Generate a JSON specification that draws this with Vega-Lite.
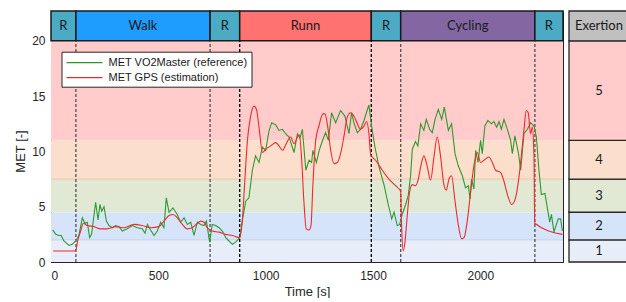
{
  "$schema": "https://vega.github.io/schema/vega-lite/v6.json",
  "padding": {"left": 14, "top": 10, "right": 0, "bottom": 0},
  "background": "white",
  "spacing": 3,
  "config": {
    "view": {"stroke": null},
    "font": "Liberation Sans",
    "axis": {
      "labelFont": "Liberation Sans", "titleFont": "Liberation Sans",
      "labelFontSize": 12, "titleFontSize": 13, "titleFontWeight": "normal",
      "labelColor": "#262626", "titleColor": "#262626",
      "domainColor": "#262626", "tickColor": "#262626", "grid": false
    }
  },
  "datasets": {
    "levels": [
      {"lo": 0, "hi": 2, "lvl": "1"},
      {"lo": 2, "hi": 4.5, "lvl": "2"},
      {"lo": 4.5, "hi": 7.5, "lvl": "3"},
      {"lo": 7.5, "hi": 11, "lvl": "4"},
      {"lo": 11, "hi": 20, "lvl": "5"},
      {"lo": 20, "hi": 22.7, "lvl": "Exertion"}
    ],
    "edges": [{"v": 2}, {"v": 7.5}],
    "bounds": [
      {"t": 116, "k": "g"}, {"t": 741, "k": "g"}, {"t": 879, "k": "b"},
      {"t": 1492, "k": "b"}, {"t": 1629, "k": "g"}, {"t": 2254, "k": "g"}
    ],
    "acts": [
      {"a": 0, "b": 116, "name": "R"},
      {"a": 116, "b": 741, "name": "Walk"},
      {"a": 741, "b": 879, "name": "R"},
      {"a": 879, "b": 1492, "name": "Runn"},
      {"a": 1492, "b": 1629, "name": "R"},
      {"a": 1629, "b": 2254, "name": "Cycling"},
      {"a": 2254, "b": 2385, "name": "R"}
    ],
    "met": [
      {"t":8,"m":2.9,"s":"VO2"},{"t":22,"m":2.5,"s":"VO2"},{"t":37,"m":2.4,"s":"VO2"},{"t":48,"m":2.4,"s":"VO2"},{"t":60,"m":1.9,"s":"VO2"},{"t":84,"m":1.5,"s":"VO2"},{"t":99,"m":1.6,"s":"VO2"},{"t":115,"m":1.9,"s":"VO2"},{"t":130,"m":2.4,"s":"VO2"},{"t":146,"m":4.0,"s":"VO2"},{"t":158,"m":3.5,"s":"VO2"},{"t":169,"m":3.6,"s":"VO2"},{"t":180,"m":2.2,"s":"VO2"},{"t":189,"m":2.5,"s":"VO2"},{"t":208,"m":5.4,"s":"VO2"},{"t":219,"m":3.8,"s":"VO2"},{"t":228,"m":5.2,"s":"VO2"},{"t":236,"m":4.6,"s":"VO2"},{"t":247,"m":5.0,"s":"VO2"},{"t":258,"m":3.7,"s":"VO2"},{"t":270,"m":3.3,"s":"VO2"},{"t":286,"m":3.1,"s":"VO2"},{"t":301,"m":3.3,"s":"VO2"},{"t":317,"m":3.2,"s":"VO2"},{"t":332,"m":2.8,"s":"VO2"},{"t":355,"m":3.0,"s":"VO2"},{"t":379,"m":3.3,"s":"VO2"},{"t":402,"m":3.1,"s":"VO2"},{"t":425,"m":3.0,"s":"VO2"},{"t":438,"m":2.6,"s":"VO2"},{"t":449,"m":3.4,"s":"VO2"},{"t":464,"m":2.9,"s":"VO2"},{"t":480,"m":2.4,"s":"VO2"},{"t":495,"m":2.8,"s":"VO2"},{"t":511,"m":3.6,"s":"VO2"},{"t":526,"m":3.1,"s":"VO2"},{"t":537,"m":5.8,"s":"VO2"},{"t":550,"m":4.5,"s":"VO2"},{"t":568,"m":4.9,"s":"VO2"},{"t":588,"m":4.3,"s":"VO2"},{"t":604,"m":3.6,"s":"VO2"},{"t":620,"m":4.0,"s":"VO2"},{"t":635,"m":3.4,"s":"VO2"},{"t":651,"m":3.6,"s":"VO2"},{"t":666,"m":2.4,"s":"VO2"},{"t":682,"m":3.6,"s":"VO2"},{"t":697,"m":3.4,"s":"VO2"},{"t":713,"m":3.3,"s":"VO2"},{"t":724,"m":3.7,"s":"VO2"},{"t":739,"m":1.8,"s":"VO2"},{"t":751,"m":3.4,"s":"VO2"},{"t":767,"m":3.3,"s":"VO2"},{"t":783,"m":3.1,"s":"VO2"},{"t":798,"m":2.8,"s":"VO2"},{"t":814,"m":2.2,"s":"VO2"},{"t":829,"m":1.9,"s":"VO2"},{"t":845,"m":1.6,"s":"VO2"},{"t":860,"m":1.8,"s":"VO2"},{"t":879,"m":2.2,"s":"VO2"},{"t":891,"m":3.7,"s":"VO2"},{"t":907,"m":5.5,"s":"VO2"},{"t":922,"m":5.8,"s":"VO2"},{"t":938,"m":8.3,"s":"VO2"},{"t":953,"m":9.6,"s":"VO2"},{"t":969,"m":9.0,"s":"VO2"},{"t":985,"m":10.4,"s":"VO2"},{"t":1000,"m":10.1,"s":"VO2"},{"t":1016,"m":11.9,"s":"VO2"},{"t":1028,"m":12.6,"s":"VO2"},{"t":1047,"m":12.4,"s":"VO2"},{"t":1062,"m":11.9,"s":"VO2"},{"t":1078,"m":12.0,"s":"VO2"},{"t":1093,"m":11.6,"s":"VO2"},{"t":1109,"m":11.3,"s":"VO2"},{"t":1132,"m":9.9,"s":"VO2"},{"t":1148,"m":11.6,"s":"VO2"},{"t":1160,"m":11.2,"s":"VO2"},{"t":1171,"m":12.0,"s":"VO2"},{"t":1187,"m":8.3,"s":"VO2"},{"t":1202,"m":9.2,"s":"VO2"},{"t":1214,"m":9.0,"s":"VO2"},{"t":1220,"m":10.1,"s":"VO2"},{"t":1236,"m":9.0,"s":"VO2"},{"t":1251,"m":10.2,"s":"VO2"},{"t":1267,"m":11.1,"s":"VO2"},{"t":1279,"m":11.7,"s":"VO2"},{"t":1292,"m":11.0,"s":"VO2"},{"t":1307,"m":13.5,"s":"VO2"},{"t":1326,"m":12.6,"s":"VO2"},{"t":1349,"m":13.7,"s":"VO2"},{"t":1369,"m":13.2,"s":"VO2"},{"t":1388,"m":11.6,"s":"VO2"},{"t":1400,"m":13.5,"s":"VO2"},{"t":1411,"m":12.6,"s":"VO2"},{"t":1427,"m":11.7,"s":"VO2"},{"t":1442,"m":12.0,"s":"VO2"},{"t":1458,"m":12.8,"s":"VO2"},{"t":1469,"m":13.5,"s":"VO2"},{"t":1481,"m":14.2,"s":"VO2"},{"t":1494,"m":12.2,"s":"VO2"},{"t":1509,"m":10.4,"s":"VO2"},{"t":1528,"m":8.6,"s":"VO2"},{"t":1551,"m":7.0,"s":"VO2"},{"t":1571,"m":5.2,"s":"VO2"},{"t":1587,"m":3.9,"s":"VO2"},{"t":1598,"m":4.5,"s":"VO2"},{"t":1613,"m":3.3,"s":"VO2"},{"t":1624,"m":3.4,"s":"VO2"},{"t":1636,"m":4.3,"s":"VO2"},{"t":1652,"m":5.2,"s":"VO2"},{"t":1664,"m":6.0,"s":"VO2"},{"t":1675,"m":7.8,"s":"VO2"},{"t":1683,"m":10.2,"s":"VO2"},{"t":1698,"m":10.9,"s":"VO2"},{"t":1709,"m":10.5,"s":"VO2"},{"t":1722,"m":12.5,"s":"VO2"},{"t":1737,"m":11.9,"s":"VO2"},{"t":1748,"m":12.9,"s":"VO2"},{"t":1764,"m":12.0,"s":"VO2"},{"t":1776,"m":11.7,"s":"VO2"},{"t":1789,"m":12.9,"s":"VO2"},{"t":1804,"m":13.8,"s":"VO2"},{"t":1820,"m":12.9,"s":"VO2"},{"t":1832,"m":14.0,"s":"VO2"},{"t":1851,"m":11.9,"s":"VO2"},{"t":1866,"m":12.5,"s":"VO2"},{"t":1882,"m":9.8,"s":"VO2"},{"t":1897,"m":8.7,"s":"VO2"},{"t":1916,"m":7.8,"s":"VO2"},{"t":1931,"m":6.7,"s":"VO2"},{"t":1944,"m":6.9,"s":"VO2"},{"t":1952,"m":5.7,"s":"VO2"},{"t":1959,"m":7.5,"s":"VO2"},{"t":1970,"m":6.6,"s":"VO2"},{"t":1978,"m":10.1,"s":"VO2"},{"t":1989,"m":9.0,"s":"VO2"},{"t":2001,"m":11.0,"s":"VO2"},{"t":2009,"m":9.8,"s":"VO2"},{"t":2021,"m":12.3,"s":"VO2"},{"t":2035,"m":12.8,"s":"VO2"},{"t":2051,"m":12.5,"s":"VO2"},{"t":2063,"m":12.7,"s":"VO2"},{"t":2076,"m":12.2,"s":"VO2"},{"t":2087,"m":12.7,"s":"VO2"},{"t":2098,"m":12.0,"s":"VO2"},{"t":2110,"m":12.9,"s":"VO2"},{"t":2126,"m":12.0,"s":"VO2"},{"t":2141,"m":11.0,"s":"VO2"},{"t":2149,"m":9.8,"s":"VO2"},{"t":2161,"m":11.4,"s":"VO2"},{"t":2177,"m":9.9,"s":"VO2"},{"t":2188,"m":8.3,"s":"VO2"},{"t":2203,"m":11.6,"s":"VO2"},{"t":2219,"m":12.0,"s":"VO2"},{"t":2234,"m":12.6,"s":"VO2"},{"t":2250,"m":12.3,"s":"VO2"},{"t":2261,"m":11.3,"s":"VO2"},{"t":2273,"m":8.3,"s":"VO2"},{"t":2284,"m":6.1,"s":"VO2"},{"t":2301,"m":6.2,"s":"VO2"},{"t":2312,"m":4.9,"s":"VO2"},{"t":2323,"m":3.6,"s":"VO2"},{"t":2331,"m":4.3,"s":"VO2"},{"t":2343,"m":2.7,"s":"VO2"},{"t":2354,"m":3.4,"s":"VO2"},{"t":2363,"m":3.9,"s":"VO2"},{"t":2374,"m":3.9,"s":"VO2"},{"t":2382,"m":2.8,"s":"VO2"},
      {"t":10,"m":1.0,"s":"GPS"},{"t":115,"m":1.0,"s":"GPS"},{"t":123,"m":1.8,"s":"GPS"},{"t":138,"m":2.8,"s":"GPS"},{"t":151,"m":3.5,"s":"GPS"},{"t":169,"m":3.3,"s":"GPS"},{"t":200,"m":3.2,"s":"GPS"},{"t":231,"m":3.0,"s":"GPS"},{"t":262,"m":3.0,"s":"GPS"},{"t":301,"m":3.2,"s":"GPS"},{"t":340,"m":3.1,"s":"GPS"},{"t":387,"m":3.4,"s":"GPS"},{"t":425,"m":3.3,"s":"GPS"},{"t":464,"m":3.1,"s":"GPS"},{"t":503,"m":3.2,"s":"GPS"},{"t":526,"m":3.7,"s":"GPS"},{"t":550,"m":4.2,"s":"GPS"},{"t":568,"m":4.3,"s":"GPS"},{"t":588,"m":4.0,"s":"GPS"},{"t":612,"m":3.4,"s":"GPS"},{"t":635,"m":3.0,"s":"GPS"},{"t":658,"m":3.1,"s":"GPS"},{"t":682,"m":3.5,"s":"GPS"},{"t":697,"m":3.7,"s":"GPS"},{"t":713,"m":3.6,"s":"GPS"},{"t":728,"m":3.1,"s":"GPS"},{"t":751,"m":2.8,"s":"GPS"},{"t":783,"m":2.7,"s":"GPS"},{"t":814,"m":2.5,"s":"GPS"},{"t":845,"m":2.4,"s":"GPS"},{"t":879,"m":2.2,"s":"GPS"},{"t":891,"m":3.7,"s":"GPS"},{"t":904,"m":7.7,"s":"GPS"},{"t":915,"m":11.0,"s":"GPS"},{"t":930,"m":13.2,"s":"GPS"},{"t":946,"m":14.1,"s":"GPS"},{"t":957,"m":13.8,"s":"GPS"},{"t":969,"m":12.2,"s":"GPS"},{"t":985,"m":9.9,"s":"GPS"},{"t":1000,"m":10.2,"s":"GPS"},{"t":1023,"m":10.5,"s":"GPS"},{"t":1047,"m":10.8,"s":"GPS"},{"t":1062,"m":10.5,"s":"GPS"},{"t":1078,"m":10.1,"s":"GPS"},{"t":1096,"m":10.7,"s":"GPS"},{"t":1116,"m":11.3,"s":"GPS"},{"t":1132,"m":10.7,"s":"GPS"},{"t":1148,"m":11.3,"s":"GPS"},{"t":1157,"m":11.5,"s":"GPS"},{"t":1167,"m":9.5,"s":"GPS"},{"t":1178,"m":5.5,"s":"GPS"},{"t":1189,"m":3.0,"s":"GPS"},{"t":1202,"m":2.9,"s":"GPS"},{"t":1211,"m":3.3,"s":"GPS"},{"t":1220,"m":7.0,"s":"GPS"},{"t":1233,"m":11.0,"s":"GPS"},{"t":1248,"m":12.3,"s":"GPS"},{"t":1267,"m":13.4,"s":"GPS"},{"t":1276,"m":13.4,"s":"GPS"},{"t":1287,"m":12.5,"s":"GPS"},{"t":1303,"m":10.1,"s":"GPS"},{"t":1318,"m":8.9,"s":"GPS"},{"t":1334,"m":9.0,"s":"GPS"},{"t":1349,"m":9.8,"s":"GPS"},{"t":1365,"m":11.4,"s":"GPS"},{"t":1380,"m":13.1,"s":"GPS"},{"t":1396,"m":13.5,"s":"GPS"},{"t":1411,"m":13.2,"s":"GPS"},{"t":1427,"m":12.5,"s":"GPS"},{"t":1442,"m":12.0,"s":"GPS"},{"t":1458,"m":12.3,"s":"GPS"},{"t":1470,"m":12.7,"s":"GPS"},{"t":1481,"m":11.6,"s":"GPS"},{"t":1489,"m":9.7,"s":"GPS"},{"t":1512,"m":9.2,"s":"GPS"},{"t":1543,"m":8.3,"s":"GPS"},{"t":1574,"m":7.5,"s":"GPS"},{"t":1605,"m":6.9,"s":"GPS"},{"t":1629,"m":6.4,"s":"GPS"},{"t":1633,"m":3.4,"s":"GPS"},{"t":1641,"m":1.0,"s":"GPS"},{"t":1649,"m":1.8,"s":"GPS"},{"t":1660,"m":4.3,"s":"GPS"},{"t":1671,"m":6.4,"s":"GPS"},{"t":1683,"m":7.0,"s":"GPS"},{"t":1698,"m":6.9,"s":"GPS"},{"t":1711,"m":7.5,"s":"GPS"},{"t":1722,"m":8.6,"s":"GPS"},{"t":1737,"m":9.6,"s":"GPS"},{"t":1753,"m":8.6,"s":"GPS"},{"t":1768,"m":7.4,"s":"GPS"},{"t":1784,"m":9.5,"s":"GPS"},{"t":1799,"m":11.3,"s":"GPS"},{"t":1815,"m":9.5,"s":"GPS"},{"t":1830,"m":7.0,"s":"GPS"},{"t":1841,"m":6.5,"s":"GPS"},{"t":1854,"m":7.5,"s":"GPS"},{"t":1866,"m":7.8,"s":"GPS"},{"t":1882,"m":5.5,"s":"GPS"},{"t":1897,"m":3.4,"s":"GPS"},{"t":1913,"m":2.1,"s":"GPS"},{"t":1924,"m":2.2,"s":"GPS"},{"t":1939,"m":3.7,"s":"GPS"},{"t":1955,"m":6.4,"s":"GPS"},{"t":1970,"m":8.7,"s":"GPS"},{"t":1986,"m":9.9,"s":"GPS"},{"t":2001,"m":9.0,"s":"GPS"},{"t":2017,"m":9.2,"s":"GPS"},{"t":2040,"m":9.5,"s":"GPS"},{"t":2056,"m":9.0,"s":"GPS"},{"t":2071,"m":8.3,"s":"GPS"},{"t":2094,"m":8.1,"s":"GPS"},{"t":2110,"m":7.3,"s":"GPS"},{"t":2126,"m":6.1,"s":"GPS"},{"t":2146,"m":5.2,"s":"GPS"},{"t":2164,"m":5.8,"s":"GPS"},{"t":2180,"m":7.7,"s":"GPS"},{"t":2192,"m":9.8,"s":"GPS"},{"t":2203,"m":11.9,"s":"GPS"},{"t":2214,"m":13.7,"s":"GPS"},{"t":2223,"m":13.5,"s":"GPS"},{"t":2234,"m":11.6,"s":"GPS"},{"t":2242,"m":12.2,"s":"GPS"},{"t":2250,"m":9.5,"s":"GPS"},{"t":2253,"m":3.5,"s":"GPS"},{"t":2382,"m":2.5,"s":"GPS"}
    ]
  },
  "hconcat": [
    {
      "width": 512,
      "height": 251,
      "layer": [
        {
          "data": {"name": "levels"},
          "transform": [{"filter": "datum.lvl != 'Exertion'"}],
          "mark": {"type": "rect"},
          "encoding": {
            "y": {"field": "lo", "type": "quantitative", "scale": {"domain": [0, 22.7], "nice": false},
                  "axis": {"orient": "left", "values": [0, 5, 10, 15, 20], "title": "MET [-]", "titleY": 140, "titlePadding": 4, "tickSize": -5, "labelPadding": 11}},
            "y2": {"field": "hi"},
            "fill": {"field": "lvl", "type": "nominal", "legend": null,
                     "scale": {"domain": ["1", "2", "3", "4", "5"], "range": ["#e7edf9", "#d6e4fa", "#e1e9d5", "#fcdecc", "#ffcbcb"]}}
          }
        },
        {
          "data": {"name": "edges"},
          "mark": {"type": "rule", "strokeWidth": 1},
          "encoding": {
            "y": {"field": "v", "type": "quantitative", "axis": null},
            "color": {"condition": {"test": "datum.v == 2", "value": "#c2d3f0"}, "value": "#efc6a6"}
          }
        },
        {
          "data": {"name": "acts"},
          "mark": {"type": "rect", "stroke": "#1a1a1a", "strokeWidth": 1.5},
          "encoding": {
            "x": {"field": "a", "type": "quantitative", "scale": {"domain": [0, 2385], "nice": false}, "axis": null},
            "x2": {"field": "b"},
            "y": {"datum": 20, "axis": null},
            "y2": {"datum": 22.7},
            "fill": {"field": "name", "type": "nominal", "legend": null,
                     "scale": {"domain": ["R", "Walk", "Runn", "Cycling"], "range": ["#4babc5", "#1f9dff", "#ff7272", "#8466a3"]}}
          }
        },
        {
          "data": {"name": "acts"},
          "transform": [{"calculate": "(datum.a + datum.b) / 2", "as": "mid"}],
          "mark": {"type": "text", "font": "Lato", "fontSize": 13, "color": "#1a1a1a"},
          "encoding": {
            "x": {"field": "mid", "type": "quantitative", "axis": null},
            "y": {"datum": 21.35, "axis": null},
            "text": {"field": "name"}
          }
        },
        {
          "data": {"name": "bounds"},
          "mark": {"type": "rule", "strokeDash": [3, 2], "strokeWidth": 1.3},
          "encoding": {
            "x": {"field": "t", "type": "quantitative", "axis": null},
            "y": {"datum": 0, "axis": null},
            "y2": {"datum": 20},
            "color": {"condition": {"test": "datum.k == 'b'", "value": "#000000"}, "value": "#505050"}
          }
        },
        {
          "data": {"name": "met"},
          "transform": [{"filter": "datum.s == 'VO2'"}],
          "mark": {"type": "line", "strokeWidth": 1.1},
          "encoding": {
            "x": {"field": "t", "type": "quantitative",
                  "axis": {"orient": "bottom", "values": [0, 500, 1000, 1500, 2000], "format": "d", "title": "Time [s]", "tickSize": -5, "labelPadding": 13, "titlePadding": 4}},
            "y": {"field": "m", "type": "quantitative",
                  "axis": {"orient": "right", "values": [0, 5, 10, 15, 20], "labels": false, "title": null, "tickSize": -5}},
            "stroke": {"field": "s", "type": "nominal",
                       "scale": {"domain": ["VO2", "GPS"], "range": ["#2e9a2e", "#f02a2a"]},
                       "legend": {"orient": "none", "legendX": 10.5, "legendY": 40.7, "title": null,
                                  "labelExpr": "datum.label == 'VO2' ? 'MET VO2Master (reference)' : 'MET GPS (estimation)'",
                                  "symbolType": "M-1,0H5", "symbolSize": 144, "symbolStrokeWidth": 1.2, "labelOffset": 29,
                                  "fillColor": "white", "strokeColor": "#262626", "padding": 4, "rowPadding": 3,
                                  "labelFont": "Liberation Sans", "labelFontSize": 11, "labelColor": "#1a1a1a"}}
          }
        },
        {
          "data": {"name": "met"},
          "transform": [{"filter": "datum.s == 'GPS'"}],
          "mark": {"type": "line", "strokeWidth": 1.1, "interpolate": "monotone"},
          "encoding": {
            "x": {"field": "t", "type": "quantitative",
                  "axis": {"orient": "top", "values": [0, 500, 1000, 1500, 2000], "labels": false, "title": null, "domain": false, "tickSize": -4, "offset": -29.8}},
            "y": {"field": "m", "type": "quantitative", "axis": null},
            "stroke": {"field": "s", "type": "nominal"}
          }
        }
      ],
      "resolve": {"scale": {"fill": "independent"}, "axis": {"x": "independent", "y": "independent"}}
    },
    {
      "width": 60,
      "height": 251,
      "data": {"name": "levels"},
      "layer": [
        {
          "mark": {"type": "rect", "stroke": "#262626", "strokeWidth": 1.3},
          "encoding": {
            "y": {"field": "lo", "type": "quantitative", "scale": {"domain": [0, 22.7], "nice": false}, "axis": null},
            "y2": {"field": "hi"},
            "fill": {"field": "lvl", "type": "nominal", "legend": null,
                     "scale": {"domain": ["1", "2", "3", "4", "5", "Exertion"], "range": ["#e7edf9", "#d6e4fa", "#e1e9d5", "#fcdecc", "#ffcbcb", "#c0c0c0"]}}
          }
        },
        {
          "transform": [{"calculate": "(datum.lo + datum.hi) / 2", "as": "mid"}],
          "mark": {"type": "text", "font": "Lato", "fontSize": 13, "color": "#1a1a1a"},
          "encoding": {
            "y": {"field": "mid", "type": "quantitative"},
            "text": {"field": "lvl"}
          }
        }
      ]
    }
  ]
}
